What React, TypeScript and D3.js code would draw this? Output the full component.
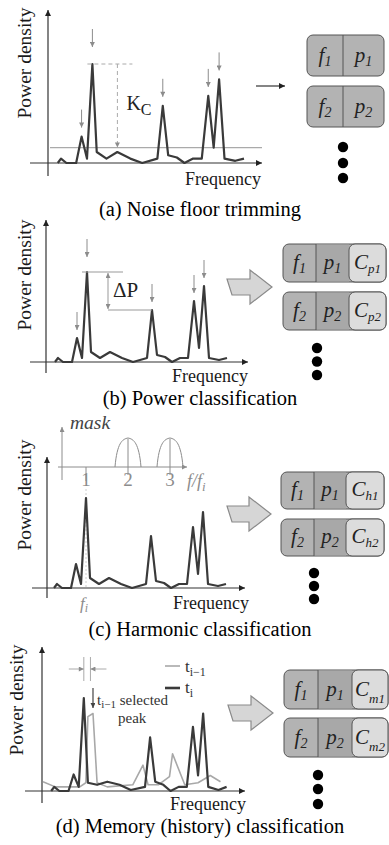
import React from 'react'
import * as d3 from 'd3'

// one spectrum, same frequency bins in every panel
const freqBins = [9, 12, 17, 26, 31, 36, 41, 45, 54, 64, 76, 87, 101, 106, 111, 119, 126, 134, 142, 148, 153, 158, 163, 173, 181]
const powerNow = [0, 4, 0, 0, 24, 4, 90, 10, 4, 10, 4, 0, 4, 52, 7, 5, 0, 4, 4, 61, 14, 76, 4, 2, 4]
// panel (d): current frame t_i and previous frame t_{i-1}
const powerTi = [0, 4, 0, 0, 16, 4, 90, 8, 6, 9, 6, 1, 4, 52, 9, 6, 0, 4, 4, 62, 15, 75, 4, 1, 4]
const prevBins = [1, 13, 25, 37, 43, 45, 50, 54, 64, 89, 99, 104, 114, 125, 128, 140, 153, 165, 175]
const powerPrev = [9, 4, 4, 4, 8, 72, 75, 8, 4, 6, 25, 6, 6, 14, 36, 6, 8, 15, 9]
const noiseFloor = 14
const harmonicTicks = [1, 2, 3]
const maskPeaks = [2, 3]
const maskHalfWidth = 0.31
const captions = ['(a) Noise floor trimming', '(b) Power classification', '(c) Harmonic classification', '(d) Memory (history) classification']
const classTags = ['', 'p1', 'h1', 'm1']
const classTags2 = ['', 'p2', 'h2', 'm2']

const FONT = '"Liberation Serif", "Times New Roman", serif'
const LINE = '#3a3a3a'
const GRAY = '#8c8c8c'

const peaksOf = (p: number[]) =>
  p.map((v, i) => (i > 0 && i < p.length - 1 && v > p[i - 1] && v > p[i + 1] && v > noiseFloor ? i : -1)).filter(i => i >= 0)

function spectrumPath(bins: number[], vals: number[], x: any, y: any) {
  return d3.line<number>().x((_, i) => x(bins[i])).y(d => y(d))(vals) || ''
}

function Axes({ ax, ay, x0, x1, yTop, yBot }: any) {
  return <g stroke="#333" strokeWidth={1.2}>
    <line x1={x0} x2={x1} y1={ay} y2={ay} markerEnd="url(#ah)" />
    <line x1={ax} x2={ax} y1={yBot} y2={yTop} markerEnd="url(#ah)" />
  </g>
}

function Labels({ py, px, fx, fy, cy, caption }: any) {
  return <g fontFamily={FONT} fill="#1a1a1a">
    <text transform={`translate(${px},${py}) rotate(-90)`} textAnchor="middle" fontSize={19.5}>Power density</text>
    <text x={fx} y={fy} fontSize={18}>Frequency</text>
    <text x={200} y={cy} textAnchor="middle" fontSize={20.5} fill="#000">{caption}</text>
  </g>
}

function BlockArrow({ t, p, cy }: any) {
  const hb = p - 22
  const d = `M${t},${cy - 8} L${hb},${cy - 8} L${hb},${cy - 17} L${p},${cy} L${hb},${cy + 17} L${hb},${cy + 8} L${t + 5},${cy + 8} Z`
  return <path d={d} fill="#d6d6d6" stroke="#8a8a8a" strokeWidth={1.2} />
}

function Records({ x0, x1, d1, d2, tops, h, tags, dx, dots }: any) {
  const fs = 21
  return <g fontFamily={FONT} fontStyle="italic" fill="#222">
    {tops.map((t: number, r: number) => {
      const tag = tags[r]
      const by = t + h * 0.66
      return <g key={r}>
        <rect x={x0} y={t} width={x1 - x0} height={h} rx={6} fill="#b3b3b3" stroke="#555" />
        {tag && <rect x={d1} y={t + 0.5} width={d2 - d1} height={h - 1} fill="#a8a8a8" />}
        {tag && <rect x={d2} y={t} width={x1 - d2} height={h} rx={6} fill="#dcdcdc" stroke="#555" />}
        <line x1={d1} x2={d1} y1={t} y2={t + h} stroke="#555" />
        <text x={(x0 + d1) / 2} y={by} textAnchor="middle" fontSize={fs}>f<tspan fontSize={14} dy={4}>{r + 1}</tspan></text>
        <text x={(d1 + d2) / 2} y={by} textAnchor="middle" fontSize={fs}>p<tspan fontSize={14} dy={4}>{r + 1}</tspan></text>
        {tag && <text x={(d2 + x1) / 2} y={by} textAnchor="middle" fontSize={fs}>C<tspan fontSize={13} dy={tag[0] === 'm' ? 7 : 4}>{tag}</tspan></text>}
      </g>
    })}
    {dots.map((y: number, i: number) => <circle key={i} cx={dx} cy={y} r={5.2} fill="#000" />)}
  </g>
}

function PeakArrows({ bins, vals, x, y, mainGap, gap }: any) {
  const pk = peaksOf(vals)
  const top = d3.max(vals) as number
  return <g stroke={GRAY} strokeWidth={1}>
    {pk.map(i => {
      const tip = y(vals[i]) - (vals[i] === top ? mainGap : gap)
      return <line key={i} x1={x(bins[i])} x2={x(bins[i])} y1={tip - 18} y2={tip} markerEnd="url(#gh)" />
    })}
  </g>
}

export default function App() {
  // (a)
  const xa = d3.scaleLinear().domain([0, 181]).range([48, 244])
  const ya = d3.scaleLinear().domain([0, 90]).range([163, 64])
  const im = powerNow.indexOf(d3.max(powerNow) as number)
  const ax = xa(freqBins[im]), ay = ya(powerNow[im])

  // (b)
  const xb = d3.scaleLinear().domain([0, 181]).range([46, 227])
  const yb = d3.scaleLinear().domain([0, 90]).range([362, 272])
  const i2 = 13
  const bx = xb(freqBins[im]), by = yb(powerNow[im])
  const qx = xb(freqBins[i2]), qy = yb(powerNow[i2])

  // (c)
  const xc = d3.scaleLinear().domain([0, 181]).range([45, 226])
  const yc = d3.scaleLinear().domain([0, 90]).range([588, 498])
  const mx = d3.scaleLinear().domain([1, 3]).range([86, 170])
  const my = d3.scaleLinear().domain([0, 1]).range([467, 439])

  // (d)
  const xd = d3.scaleLinear().domain([0, 181]).range([42, 226.6])
  const yd = d3.scaleLinear().domain([0, 90]).range([791, 698])
  const prevMax = d3.max(powerPrev) as number
  const plateau = prevBins.filter((_, i) => powerPrev[i] > prevMax * 0.9)
  const prevPeakX = xd(d3.mean(plateau) as number)
  const selX = xd(prevBins[powerPrev.indexOf(prevMax)])
  const curX = xd(freqBins[powerTi.indexOf(d3.max(powerTi) as number)])

  const arch = (h: number) => {
    const L = mx(h - maskHalfWidth), R = mx(h + maskHalfWidth), C = mx(h)
    const B = my(0), T = my(1), W = R - L
    return `M${L},${B} C${L + 0.08 * W},${T + 4} ${C - 0.22 * W},${T} ${C},${T - 1} C${C + 0.22 * W},${T} ${R - 0.08 * W},${T + 4} ${R},${B}`
  }

  return (
    <svg width={389} height={845} style={{ position: 'absolute', left: 0, top: 0, background: '#fff' }}>
      <defs>
        <marker id="ah" viewBox="0 0 10 10" refX={10} refY={5} markerWidth={8} markerHeight={6} markerUnits="userSpaceOnUse" orient="auto">
          <path d="M0,0 L10,5 L0,10 z" fill="#222" />
        </marker>
        <marker id="gh" viewBox="0 0 10 10" refX={10} refY={5} markerWidth={7} markerHeight={5} markerUnits="userSpaceOnUse" orient="auto-start-reverse">
          <path d="M0,0 L10,5 L0,10 z" fill={GRAY} />
        </marker>
        <marker id="dh" viewBox="0 0 10 10" refX={10} refY={5} markerWidth={7} markerHeight={5} markerUnits="userSpaceOnUse" orient="auto">
          <path d="M0,0 L10,5 L0,10 z" fill="#444" />
        </marker>
      </defs>

      {/* (a) noise floor trimming */}
      <Axes ax={48} ay={163} x0={30} x1={262} yTop={10} yBot={176} />
      <line x1={50} x2={262} y1={ya(noiseFloor)} y2={ya(noiseFloor)} stroke="#aaa" strokeWidth={1.4} />
      <path d={spectrumPath(freqBins, powerNow, xa, ya)} fill="none" stroke={LINE} strokeWidth={2.2} strokeLinejoin="round" />
      <PeakArrows bins={freqBins} vals={powerNow} x={xa} y={ya} mainGap={17} gap={9} />
      <g stroke="#aaa" strokeWidth={1} strokeDasharray="4 3">
        <line x1={ax - 5} x2={ax + 40} y1={ay} y2={ay} />
        <line x1={ax + 25} x2={ax + 25} y1={ay} y2={ya(noiseFloor)} markerEnd="url(#gh)" />
      </g>
      <text x={ax + 34} y={ay + 46} fontFamily={FONT} fontSize={20} fill="#222">K<tspan fontSize={16} dy={5}>C</tspan></text>
      <Labels px={31} py={63} fx={185} fy={185} cy={216} caption={captions[0]} />
      <line x1={256} x2={285} y1={86} y2={86} stroke="#333" strokeWidth={1.2} markerEnd="url(#ah)" />
      <Records x0={307} x1={384} d1={343} d2={384} tops={[35, 86]} h={41} tags={['', '']} dx={343} dots={[147, 163, 178]} />

      {/* (b) power classification */}
      <Axes ax={46} ay={362} x0={30} x1={248} yTop={220} yBot={373} />
      <path d={spectrumPath(freqBins, powerNow, xb, yb)} fill="none" stroke={LINE} strokeWidth={2.2} strokeLinejoin="round" />
      <PeakArrows bins={freqBins} vals={powerNow} x={xb} y={yb} mainGap={15} gap={8} />
      <g stroke="#999" strokeWidth={1}>
        <line x1={bx - 5} x2={bx + 36} y1={by} y2={by} />
        <line x1={bx + 21} x2={qx} y1={qy} y2={qy} />
        <line x1={bx + 21} x2={bx + 21} y1={by + 1} y2={qy - 1} markerStart="url(#gh)" markerEnd="url(#gh)" />
      </g>
      <text x={bx + 26} y={297} fontFamily={FONT} fontSize={21} fill="#222">ΔP</text>
      <Labels px={31} py={275} fx={172} fy={382} cy={405} caption={captions[1]} />
      <BlockArrow t={227} p={272} cy={287} />
      <Records x0={283} x1={386} d1={316} d2={349} tops={[244, 292]} h={38} tags={[classTags[1], classTags2[1]]} dx={317} dots={[348, 361.5, 375]} />

      {/* (c) harmonic classification */}
      <g stroke={GRAY} strokeWidth={1} fill="none">
        <line x1={58} x2={187} y1={my(0)} y2={my(0)} markerEnd="url(#gh)" />
        <line x1={62} x2={62} y1={480} y2={427} markerEnd="url(#gh)" />
        {maskPeaks.map(h => <path key={h} d={arch(h)} />)}
        {maskPeaks.map(h => <line key={'t' + h} x1={mx(h)} x2={mx(h)} y1={my(1)} y2={my(0) + 8} />)}
        <line x1={mx(1)} x2={mx(1)} y1={my(0)} y2={my(0) + 14} />
        <line x1={mx(1)} x2={mx(1)} y1={my(0) + 22} y2={yc(0)} stroke="#ccc" strokeDasharray="2 2" />
      </g>
      <g fontFamily={FONT} fill={GRAY} fontSize={19} textAnchor="middle">
        {harmonicTicks.map(h => <text key={h} x={mx(h)} y={486}>{h}</text>)}
      </g>
      <text x={187} y={487} fontFamily={FONT} fontStyle="italic" fontSize={18} fill={GRAY}>f/f<tspan fontSize={13} dy={4}>i</tspan></text>
      <text x={70} y={429} fontFamily={FONT} fontStyle="italic" fontSize={19.5} fill="#444">mask</text>
      <Axes ax={47} ay={588} x0={32} x1={245} yTop={457} yBot={598} />
      <path d={spectrumPath(freqBins, powerNow, xc, yc)} fill="none" stroke={LINE} strokeWidth={2.2} strokeLinejoin="round" />
      <text x={mx(1) - 6} y={609} fontFamily={FONT} fontStyle="italic" fontSize={17} fill={GRAY}>f<tspan fontSize={12} dy={3}>i</tspan></text>
      <Labels px={31} py={495} fx={173} fy={609} cy={636} caption={captions[2]} />
      <BlockArrow t={227} p={271} cy={514} />
      <Records x0={281} x1={384} d1={314} d2={346} tops={[472, 519]} h={37} tags={[classTags[2], classTags2[2]]} dx={314} dots={[573, 586, 599]} />

      {/* (d) memory classification */}
      <Axes ax={42} ay={791} x0={25} x1={245} yTop={647} yBot={803} />
      <path d={spectrumPath(prevBins, powerPrev, xd, yd)} fill="none" stroke="#a8a8a8" strokeWidth={1.6} strokeLinejoin="round" />
      <path d={spectrumPath(freqBins, powerTi, xd, yd)} fill="none" stroke={LINE} strokeWidth={2.2} strokeLinejoin="round" />
      <g stroke="#aaa" strokeWidth={1}>
        <line x1={curX} x2={curX} y1={657} y2={681} />
        <line x1={prevPeakX} x2={prevPeakX} y1={657} y2={681} />
        <line x1={curX - 15} x2={curX} y1={669} y2={669} markerEnd="url(#gh)" />
        <line x1={prevPeakX + 16} x2={prevPeakX} y1={669} y2={669} markerEnd="url(#gh)" />
      </g>
      <line x1={selX} x2={selX} y1={688} y2={708} stroke="#444" strokeWidth={1.2} markerEnd="url(#dh)" />
      <g fontFamily={FONT} fill="#333">
        <text x={selX + 4} y={705} fontSize={15}>t<tspan fontSize={11} dy={3}>i−1</tspan><tspan dy={-3}> selected</tspan></text>
        <text x={118} y={723} fontSize={15}>peak</text>
        <text x={185} y={672} fontSize={17}>t<tspan fontSize={12} dy={4}>i−1</tspan></text>
        <text x={185} y={693} fontSize={17}>t<tspan fontSize={12} dy={4}>i</tspan></text>
      </g>
      <line x1={165} x2={180} y1={666} y2={666} stroke="#a8a8a8" strokeWidth={1.6} />
      <line x1={165} x2={180} y1={688} y2={688} stroke={LINE} strokeWidth={2.6} />
      <Labels px={23} py={700} fx={170} fy={810} cy={833} caption={captions[3]} />
      <BlockArrow t={228} p={273} cy={713} />
      <Records x0={284} x1={388} d1={318} d2={352} tops={[670, 718]} h={39} tags={[classTags[3], classTags2[3]]} dx={318} dots={[775, 789, 804]} />
    </svg>
  )
}
